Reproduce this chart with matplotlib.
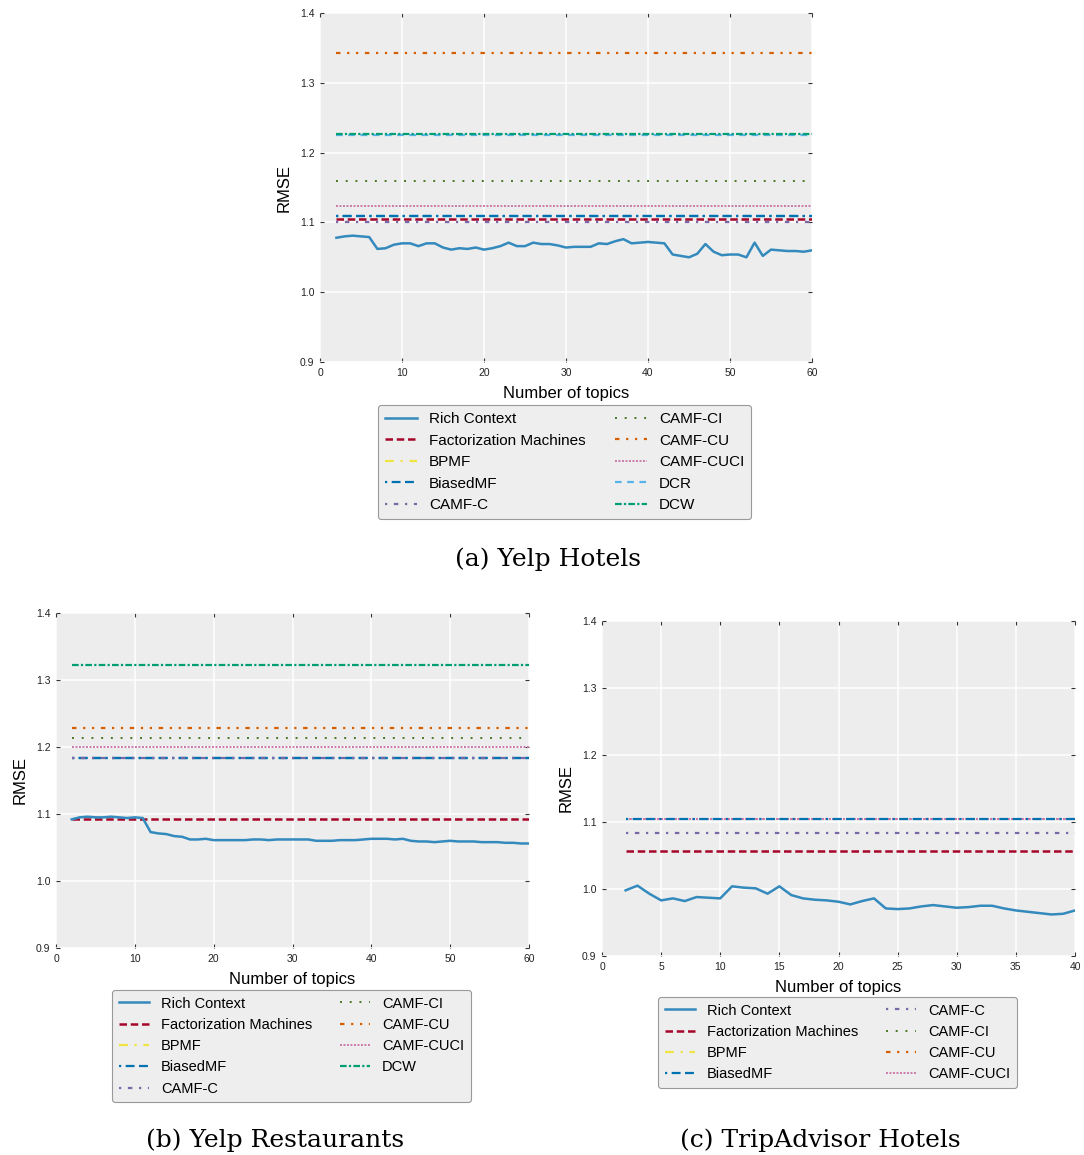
import numpy as np
import matplotlib
matplotlib.use("Agg")
import matplotlib.pyplot as plt
from matplotlib.lines import Line2D

# ---------------- data ----------------
# Panel (a) Yelp Hotels
topics_a = list(range(2, 61))
rich_a = [1.078, 1.080, 1.081, 1.080, 1.079, 1.062, 1.063, 1.068, 1.070, 1.070,
          1.066, 1.070, 1.070, 1.064, 1.061, 1.063, 1.062, 1.064, 1.061, 1.063,
          1.066, 1.071, 1.066, 1.066, 1.071, 1.069, 1.069, 1.067, 1.064, 1.065,
          1.065, 1.065, 1.070, 1.069, 1.073, 1.076, 1.070, 1.071, 1.072, 1.071,
          1.070, 1.054, 1.052, 1.050, 1.055, 1.069, 1.058, 1.053, 1.054, 1.054,
          1.050, 1.071, 1.052, 1.061, 1.060, 1.059, 1.059, 1.058, 1.060]
base_names_a = ["Factorization Machines", "BPMF", "BiasedMF", "CAMF-C", "CAMF-CI",
                "CAMF-CU", "CAMF-CUCI", "DCR", "DCW"]
base_vals_a = [1.105, 1.109, 1.109, 1.100, 1.159, 1.343, 1.123, 1.225, 1.226]

# Panel (b) Yelp Restaurants
topics_b = list(range(2, 61))
rich_b = [1.092, 1.095, 1.096, 1.095, 1.095, 1.096, 1.095, 1.094, 1.095, 1.094,
          1.073, 1.071, 1.070, 1.067, 1.066, 1.062, 1.062, 1.063, 1.061, 1.061,
          1.061, 1.061, 1.061, 1.062, 1.062, 1.061, 1.062, 1.062, 1.062, 1.062,
          1.062, 1.060, 1.060, 1.060, 1.061, 1.061, 1.061, 1.062, 1.063, 1.063,
          1.063, 1.062, 1.063, 1.060, 1.059, 1.059, 1.058, 1.059, 1.060, 1.059,
          1.059, 1.059, 1.058, 1.058, 1.058, 1.057, 1.057, 1.056, 1.056]
base_names_b = ["Factorization Machines", "BPMF", "BiasedMF", "CAMF-C", "CAMF-CI",
                "CAMF-CU", "CAMF-CUCI", "DCW"]
base_vals_b = [1.092, 1.183, 1.183, 1.183, 1.213, 1.229, 1.200, 1.322]

# Panel (c) TripAdvisor Hotels
topics_c = list(range(2, 41))
rich_c = [0.998, 1.005, 0.993, 0.983, 0.986, 0.982, 0.988, 0.987, 0.986, 1.004,
          1.002, 1.001, 0.993, 1.004, 0.991, 0.986, 0.984, 0.983, 0.981, 0.977,
          0.982, 0.986, 0.971, 0.970, 0.971, 0.974, 0.976, 0.974, 0.972, 0.973,
          0.975, 0.975, 0.971, 0.968, 0.966, 0.964, 0.962, 0.963, 0.968]
base_names_c = ["Factorization Machines", "BPMF", "BiasedMF", "CAMF-C", "CAMF-CI",
                "CAMF-CU", "CAMF-CUCI"]
base_vals_c = [1.057, 1.104, 1.104, 1.084, 1.104, 1.104, 1.104]

# ---------------- styles ----------------
styles = {
    "Rich Context": dict(color="#348ABD", ls="-", lw=1.8),
    "Factorization Machines": dict(color="#A60628", ls=(0, (3, 1.5)), lw=1.8),
    "BPMF": dict(color="#F0E442", ls=(0, (4, 3, 1, 3)), lw=1.6),
    "BiasedMF": dict(color="#0072B2", ls=(0, (1, 2, 4, 2, 4, 2)), lw=1.6),
    "CAMF-C": dict(color="#7A68A6", ls=(0, (1, 3, 2, 3)), lw=1.6),
    "CAMF-CI": dict(color="#467821", ls=(0, (1, 4)), lw=1.4),
    "CAMF-CU": dict(color="#D55E00", ls=(0, (2, 3, 1, 3, 1, 3)), lw=1.6),
    "CAMF-CUCI": dict(color="#CC79A7", ls=(0, (1, 0.8)), lw=1.4),
    "DCR": dict(color="#56B4E9", ls=(0, (3, 2.5)), lw=1.6),
    "DCW": dict(color="#009E73", ls=(0, (3, 1, 1, 1)), lw=1.6),
}
# series that sit exactly underneath another one in the reference (hidden)
covered_a = {"BPMF": "BiasedMF"}
covered_b = {"BPMF": "BiasedMF"}
covered_c = {"BPMF": "CAMF-CUCI", "CAMF-CI": "CAMF-CUCI", "CAMF-CU": "CAMF-CUCI"}

W, H = 1084, 1155
fig = plt.figure(figsize=(W / 100, H / 100), dpi=100)
FONT = ["Liberation Sans", "DejaVu Sans"]


def px_axes(l, t, r, b):
    return fig.add_axes([l / W, 1 - b / H, (r - l) / W, (b - t) / H])


def panel(ax, topics, rich, names, vals, xmax, xticks, legend_pos, covered,
          top_name=None, leg_size=11):
    ax.set_facecolor("#EDEDED")
    for s in ax.spines.values():
        s.set_visible(False)
    ax.grid(True, color="white", lw=1.1)
    ax.set_axisbelow(True)
    st = styles["Rich Context"]
    ax.plot(topics, rich, color=st["color"], ls=st["ls"], lw=st["lw"], zorder=3)
    for i, (n, v) in enumerate(zip(names, vals)):
        st = styles[covered.get(n, n)]
        z = 2.0 + i * 0.01
        if n in covered:
            z = 1.5
        if n == top_name:
            z = 2.5
        ax.plot(topics, np.full(len(topics), v), color=st["color"],
                ls=st["ls"], lw=st["lw"], zorder=z)
    ax.set_xlim(0, xmax)
    ax.set_ylim(0.9, 1.4)
    ax.set_xticks(xticks)
    ax.set_yticks([0.9, 1.0, 1.1, 1.2, 1.3, 1.4])
    ax.set_yticklabels(["0.9", "1.0", "1.1", "1.2", "1.3", "1.4"])
    ax.tick_params(direction="in", length=3, width=0.8, color="#333333",
                   labelsize=7.5, labelcolor="#222222", top=True, right=True, pad=4)
    for lab in ax.get_xticklabels() + ax.get_yticklabels():
        lab.set_family(FONT)
    ax.set_xlabel("Number of topics", fontsize=12, family=FONT, labelpad=6)
    ax.set_ylabel("RMSE", fontsize=12, family=FONT, labelpad=6)
    order = ["Rich Context"] + names
    handles = [Line2D([], [], color=styles[n]["color"], ls=styles[n]["ls"],
                      lw=styles[n]["lw"]) for n in order]
    leg = fig.legend(handles, order, loc="upper left",
                     bbox_to_anchor=(legend_pos[0] / W, 1 - legend_pos[1] / H),
                     bbox_transform=fig.transFigure, ncol=2,
                     prop={"family": FONT, "size": leg_size}, frameon=True,
                     handlelength=2.1, columnspacing=1.9, labelspacing=0.5,
                     borderpad=0.45, handletextpad=0.8, borderaxespad=0.0,
                     fancybox=True)
    fr = leg.get_frame()
    fr.set_facecolor("#EEEEEE")
    fr.set_edgecolor("#999999")
    fr.set_alpha(1.0)
    fr.set_linewidth(0.8)
    return leg


ax_a = px_axes(320, 13, 812, 362)
panel(ax_a, topics_a, rich_a, base_names_a, base_vals_a, 60, range(0, 61, 10),
      (378, 405), covered_a, leg_size=11)
ax_b = px_axes(56, 613, 529, 948)
panel(ax_b, topics_b, rich_b, base_names_b, base_vals_b, 60, range(0, 61, 10),
      (112, 990), covered_b, leg_size=10.5)
ax_c = px_axes(602, 621, 1075, 956)
panel(ax_c, topics_c, rich_c, base_names_c, base_vals_c, 40, range(0, 41, 5),
      (658, 997), covered_c, top_name="BiasedMF", leg_size=10.5)

cap_font = dict(family=["DejaVu Serif"], fontsize=18, ha="center", va="center")
fig.text(548 / W, 1 - 559 / H, "(a) Yelp Hotels", **cap_font)
fig.text(275 / W, 1 - 1140 / H, "(b) Yelp Restaurants", **cap_font)
fig.text(820 / W, 1 - 1140 / H, "(c) TripAdvisor Hotels", **cap_font)

fig.savefig("out.png", dpi=100)
